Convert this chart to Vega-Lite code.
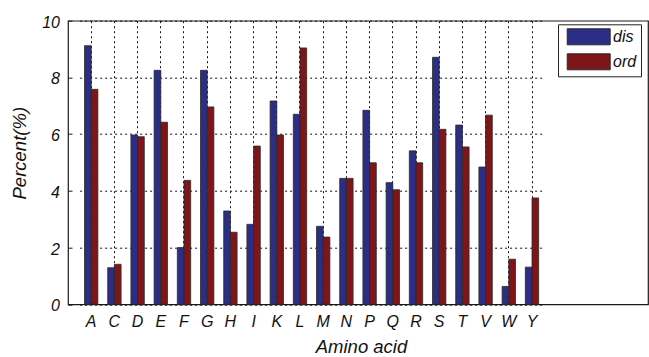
{
  "$schema": "https://vega.github.io/schema/vega-lite/v6.json",
  "width": 580,
  "height": 283.6,
  "autosize": {"type": "none"},
  "padding": {"left": 68, "top": 20.7, "right": 1, "bottom": 52.7},
  "background": "white",
  "config": {
    "view": {"stroke": "#1a1a1a", "strokeWidth": 1.2},
    "font": "Liberation Sans"
  },
  "data": {
    "values": [
      {"aa": "A", "type": "dis", "value": 9.12}, {"aa": "A", "type": "ord", "value": 7.58},
      {"aa": "C", "type": "dis", "value": 1.29}, {"aa": "C", "type": "ord", "value": 1.41},
      {"aa": "D", "type": "dis", "value": 5.97}, {"aa": "D", "type": "ord", "value": 5.91},
      {"aa": "E", "type": "dis", "value": 8.25}, {"aa": "E", "type": "ord", "value": 6.42},
      {"aa": "F", "type": "dis", "value": 2.0}, {"aa": "F", "type": "ord", "value": 4.37},
      {"aa": "G", "type": "dis", "value": 8.25}, {"aa": "G", "type": "ord", "value": 6.96},
      {"aa": "H", "type": "dis", "value": 3.29}, {"aa": "H", "type": "ord", "value": 2.54},
      {"aa": "I", "type": "dis", "value": 2.82}, {"aa": "I", "type": "ord", "value": 5.58},
      {"aa": "K", "type": "dis", "value": 7.17}, {"aa": "K", "type": "ord", "value": 5.97},
      {"aa": "L", "type": "dis", "value": 6.70}, {"aa": "L", "type": "ord", "value": 9.04},
      {"aa": "M", "type": "dis", "value": 2.75}, {"aa": "M", "type": "ord", "value": 2.37},
      {"aa": "N", "type": "dis", "value": 4.44}, {"aa": "N", "type": "ord", "value": 4.44},
      {"aa": "P", "type": "dis", "value": 6.84}, {"aa": "P", "type": "ord", "value": 4.99},
      {"aa": "Q", "type": "dis", "value": 4.29}, {"aa": "Q", "type": "ord", "value": 4.04},
      {"aa": "R", "type": "dis", "value": 5.41}, {"aa": "R", "type": "ord", "value": 4.99},
      {"aa": "S", "type": "dis", "value": 8.71}, {"aa": "S", "type": "ord", "value": 6.17},
      {"aa": "T", "type": "dis", "value": 6.32}, {"aa": "T", "type": "ord", "value": 5.55},
      {"aa": "V", "type": "dis", "value": 4.84}, {"aa": "V", "type": "ord", "value": 6.67},
      {"aa": "W", "type": "dis", "value": 0.63}, {"aa": "W", "type": "ord", "value": 1.59},
      {"aa": "Y", "type": "dis", "value": 1.31}, {"aa": "Y", "type": "ord", "value": 3.75}
    ]
  },
  "mark": {"type": "bar", "stroke": "#2a2a2a", "strokeWidth": 0.8},
  "encoding": {
    "x": {
      "field": "aa",
      "type": "nominal",
      "scale": {
        "domain": ["A","C","D","E","F","G","H","I","K","L","M","N","P","Q","R","S","T","V","W","Y"],
        "paddingInner": 0,
        "paddingOuter": 0,
        "range": [11.6, 475.6]
      },
      "axis": {
        "title": "Amino acid",
        "titleFont": "Liberation Sans",
        "titleFontSize": 18.5,
        "titleFontStyle": "italic",
        "titleFontWeight": "normal",
        "titleColor": "#111",
        "titleBaseline": "alphabetic",
        "titleAlign": "center",
        "titleX": 293,
        "titleY": 48.5,
        "labelAngle": 0,
        "labelFont": "Liberation Sans",
        "labelFontSize": 16,
        "labelFontStyle": "italic",
        "labelColor": "#111",
        "labelBaseline": "alphabetic",
        "labelPadding": 25.7,
        "bandPosition": 0.5,
        "domain": false,
        "ticks": true,
        "tickSize": -4,
        "tickColor": "#1a1a1a",
        "grid": true,
        "gridColor": "#111",
        "gridDash": [2, 3],
        "gridWidth": 1
      }
    },
    "xOffset": {
      "field": "type",
      "type": "nominal",
      "scale": {"domain": ["dis", "ord"], "paddingInner": 0, "paddingOuter": 0.735}
    },
    "y": {
      "field": "value",
      "type": "quantitative",
      "scale": {"domain": [0, 10], "nice": false, "zero": true},
      "axis": {
        "title": "Percent(%)",
        "titleFont": "Liberation Sans",
        "titleFontSize": 18.5,
        "titleFontStyle": "italic",
        "titleFontWeight": "normal",
        "titleColor": "#111",
        "titleBaseline": "alphabetic",
        "titleX": -43,
        "titleY": 132,
        "values": [0, 2, 4, 6, 8, 10],
        "labelFont": "Liberation Sans",
        "labelFontSize": 16,
        "labelFontStyle": "italic",
        "labelColor": "#111",
        "labelPadding": 12.5,
        "labelOffset": 1.5,
        "domain": false,
        "ticks": true,
        "tickSize": -4,
        "tickColor": "#1a1a1a",
        "grid": true,
        "gridColor": "#111",
        "gridDash": [2, 3],
        "gridWidth": 1
      }
    },
    "color": {
      "field": "type",
      "type": "nominal",
      "scale": {"domain": ["dis", "ord"], "range": ["#2B2E84", "#7E1518"]},
      "legend": {
        "title": null,
        "orient": "none",
        "legendX": 490,
        "legendY": 3.6,
        "padding": 4,
        "strokeColor": "#222",
        "fillColor": "white",
        "symbolType": "M-0.41,-1H4.96V1H-0.41Z",
        "symbolSize": 256,
        "symbolStrokeColor": "#2a2a2a",
        "symbolStrokeWidth": 1,
        "symbolOpacity": 1,
        "labelFont": "Liberation Sans",
        "labelFontSize": 16,
        "labelFontStyle": "italic",
        "labelColor": "#111",
        "labelOffset": 34,
        "rowPadding": 4
      }
    }
  }
}
